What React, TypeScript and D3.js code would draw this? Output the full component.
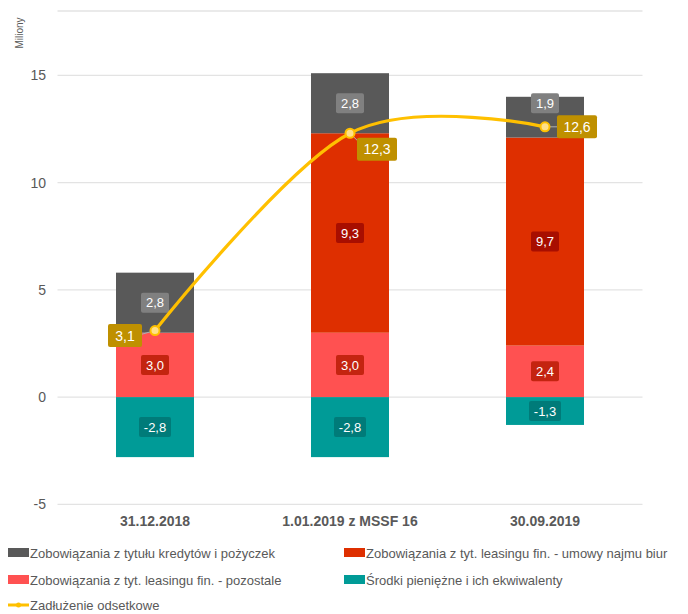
import React from "react";
import * as d3 from "d3";

const categories = ["31.12.2018", "1.01.2019 z MSSF 16", "30.09.2019"];
const cash = [-2.8, -2.8, -1.3];
const leaseOther = [3.0, 3.0, 2.4];
const leaseOffice = [0, 9.3, 9.7];
const loans = [2.8, 2.8, 1.9];
const netDebt = [3.1, 12.3, 12.6];
const yTicks = [-5, 0, 5, 10, 15];

const seriesNames = [
  "Zobowiązania z tytułu kredytów i pożyczek",
  "Zobowiązania z tyt. leasingu fin. - umowy najmu biur",
  "Zobowiązania z tyt. leasingu fin. - pozostale",
  "Środki pieniężne i ich ekwiwalenty",
  "Zadłużenie odsetkowe",
];

const W = 688;
const H = 614;
const x = d3.scaleBand<string>().domain(categories).range([57.5, 642.5]).paddingInner(0.6).paddingOuter(0.3);
const y = d3.scaleLinear().domain([-5, 18]).range([504.3, 11]);

const fmt = (v: number) => v.toFixed(1).replace(".", ",");
const FONT = "'Liberation Sans', Arial, sans-serif";
const TXT = "#595959";

// label nudges (layout only)
const lineLabelOffsets = [
  [-30, 5],
  [27, 16],
  [32, 0],
];
const loansLabelNudge = [0, 0, -14];

function Label({ cx, cy, text, fill, w, h = 20, fs = 13 }: { cx: number; cy: number; text: string; fill: string; w?: number; h?: number; fs?: number }) {
  const bw = w ?? text.length * 7 + 8;
  return (
    <g>
      <rect x={cx - bw / 2} y={cy - h / 2} width={bw} height={h} rx={2} fill={fill} />
      <text x={cx} y={cy + fs * 0.36} textAnchor="middle" fontSize={fs} fill="#fff" fontFamily={FONT}>
        {text}
      </text>
    </g>
  );
}

export default function App() {
  const bw = x.bandwidth();
  const segs = categories.map((c, i) => {
    const x0 = x(c)!;
    const list: { y0: number; y1: number; color: string; lab: string; v: number; nudge: number }[] = [];
    list.push({ y0: 0, y1: cash[i], color: "#009B97", lab: "#007B79", v: cash[i], nudge: 0 });
    let acc = 0;
    list.push({ y0: acc, y1: acc + leaseOther[i], color: "#FF5151", lab: "#C42410", v: leaseOther[i], nudge: 0 });
    acc += leaseOther[i];
    list.push({ y0: acc, y1: acc + leaseOffice[i], color: "#DE2F00", lab: "#A80E00", v: leaseOffice[i], nudge: 0 });
    acc += leaseOffice[i];
    list.push({ y0: acc, y1: acc + loans[i], color: "#595959", lab: "#808080", v: loans[i], nudge: loansLabelNudge[i] });
    return { x0, list };
  });

  const pts = categories.map((c, i) => [x(c)! + bw / 2, y(netDebt[i])] as [number, number]);
  const line = d3.line().curve(d3.curveCardinal.tension(0))(pts) || "";

  const legend = [
    { name: seriesNames[0], color: "#595959", lx: 8, ly: 553, type: "rect" },
    { name: seriesNames[1], color: "#DE2F00", lx: 344, ly: 553, type: "rect" },
    { name: seriesNames[2], color: "#FF5151", lx: 8, ly: 580, type: "rect" },
    { name: seriesNames[3], color: "#009B97", lx: 344, ly: 580, type: "rect" },
    { name: seriesNames[4], color: "#FFC000", lx: 8, ly: 605, type: "line" },
  ];

  return (
    <svg width={W} height={H} style={{ position: "absolute", left: 0, top: 0 }}>
      <rect width={W} height={H} fill="#fff" />
      {[18, ...yTicks].map((t) => (
        <line key={t} x1={57.5} x2={642.5} y1={y(t)} y2={y(t)} stroke="#e3e3e3" strokeWidth={1.3} />
      ))}
      {yTicks.map((t) => (
        <text key={t} x={46} y={y(t) + 5} textAnchor="end" fontSize={14} fill={TXT} fontFamily={FONT}>
          {t}
        </text>
      ))}
      <text transform="translate(23,33) rotate(-90)" textAnchor="middle" fontSize={10} fill={TXT} fontFamily={FONT}>
        Miliony
      </text>
      {segs.map((s, i) =>
        s.list.map((g, j) =>
          g.v === 0 ? null : (
            <rect
              key={i + "-" + j}
              x={s.x0}
              width={bw}
              y={y(Math.max(g.y0, g.y1))}
              height={Math.abs(y(g.y0) - y(g.y1))}
              fill={g.color}
            />
          )
        )
      )}
      {segs.map((s, i) =>
        s.list.map((g, j) =>
          g.v === 0 ? null : (
            <Label
              key={"l" + i + "-" + j}
              cx={s.x0 + bw / 2}
              cy={y((g.y0 + g.y1) / 2) + g.nudge}
              text={fmt(g.v)}
              fill={g.lab}
              w={g.v < 0 ? 32 : 28}
            />
          )
        )
      )}
      {categories.map((c) => (
        <text
          key={c}
          x={x(c)! + bw / 2}
          y={526}
          textAnchor="middle"
          fontSize={14}
          fontWeight="bold"
          fill={TXT}
          fontFamily={FONT}
        >
          {c}
        </text>
      ))}
      <path d={line} fill="none" stroke="#FFC000" strokeWidth={3.2} />
      {pts.map((p, i) => {
        const [dx, dy] = lineLabelOffsets[i];
        return (
          <g key={"p" + i}>
            <line x1={p[0]} y1={p[1]} x2={p[0] + dx * 0.6} y2={p[1] + dy} stroke="#b0b0b0" strokeWidth={1} />
            <circle cx={p[0]} cy={p[1]} r={4.5} fill="#FFE08A" stroke="#FFC000" strokeWidth={2} />
          </g>
        );
      })}
      {pts.map((p, i) => {
        const [dx, dy] = lineLabelOffsets[i];
        const t = fmt(netDebt[i]);
        return (
          <Label key={"pl" + i} cx={p[0] + dx} cy={p[1] + dy} text={t} fill="#BF9000" w={t.length > 3 ? 40 : 34} h={23} fs={14} />
        );
      })}
      {legend.map((l) => (
        <g key={l.name}>
          {l.type === "rect" ? (
            <rect x={l.lx} y={l.ly - 5} width={21} height={9} fill={l.color} />
          ) : (
            <g>
              <line x1={l.lx} x2={l.lx + 21} y1={l.ly} y2={l.ly} stroke={l.color} strokeWidth={3} />
              <circle cx={l.lx + 10.5} cy={l.ly} r={2.5} fill={l.color} />
            </g>
          )}
          <text x={l.lx + 22} y={l.ly + 5} fontSize={13} fill={TXT} fontFamily={FONT}>
            {l.name}
          </text>
        </g>
      ))}
    </svg>
  );
}
